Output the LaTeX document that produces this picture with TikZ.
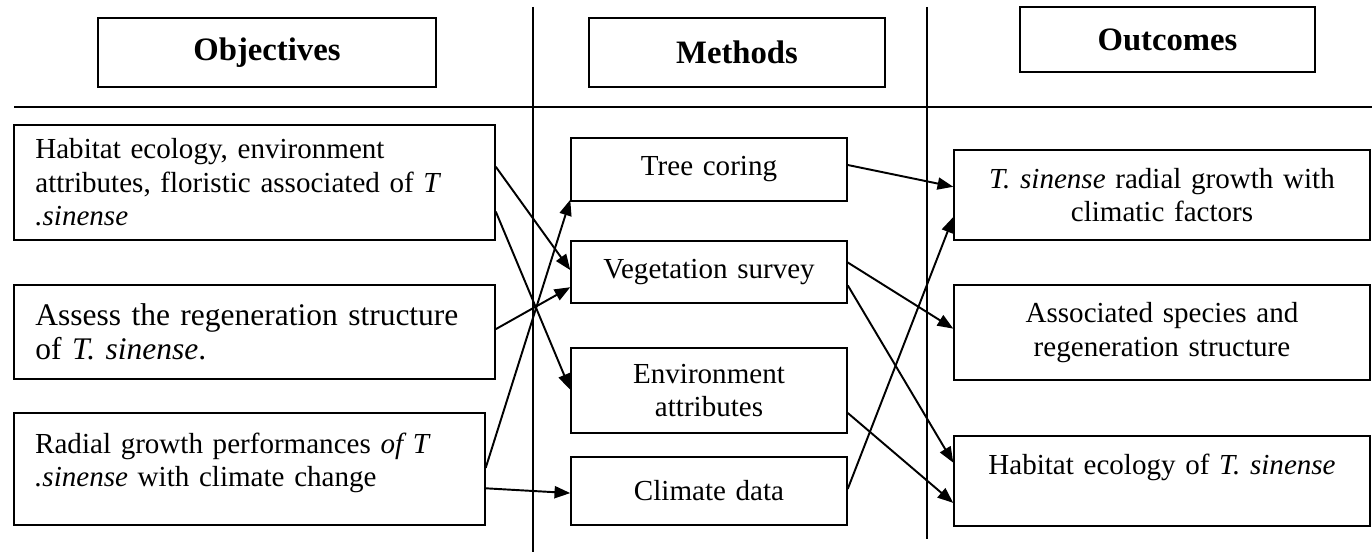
\documentclass[tikz,border=0pt]{standalone}
\usepackage{fontspec}
\setmainfont{Liberation Serif}
\usetikzlibrary{arrows.meta, calc}

\begin{document}
\begin{tikzpicture}[
    x=0.413pt, y=-0.413pt,
    font=\fontsize{12}{13.8}\selectfont,
    head/.style={draw, line width=0.6pt, inner sep=0pt,
                 font=\fontsize{13.5}{16}\selectfont\bfseries},
    objbox/.style={draw, line width=0.6pt, inner xsep=8.7pt, inner ysep=0pt,
                   align=left},
    methbox/.style={draw, line width=0.6pt, inner sep=0pt, align=center,
                    minimum width=114pt, text width=110pt},
    outbox/.style={draw, line width=0.6pt, inner sep=0pt, align=center,
                   minimum width=171.8pt, text width=165pt},
    arr/.style={-{Triangle[length=6.5pt, width=5pt]}, line width=0.8pt},
    divider/.style={line width=0.7pt}
]
\useasboundingbox (0,0) rectangle (1372,552);

% column dividers
\draw[divider] (14,107) -- (1372,107);
\draw[divider] (533,7) -- (533,552);
\draw[divider] (927,7) -- (927,539);

% headers
\node[head, minimum width=139.6pt, minimum height=28.5pt] (hobj) at (267,52.5) {Objectives};
\node[head, minimum width=122.2pt, minimum height=28.5pt] (hmeth) at (737,52.5) {Methods};
\node[head, minimum width=121.8pt, minimum height=26.8pt] (hout) at (1167.5,39.5) {Outcomes};

% objectives
\node[objbox, minimum width=198.7pt, minimum height=47.5pt, text width=181pt] (obj1) at (254.5,182.5)
  {Habitat ecology, environment\\ attributes, floristic associated of \emph{T}\\ \emph{.sinense}};
\node[objbox, minimum width=198.7pt, minimum height=38.8pt, text width=181pt,
      font=\fontsize{13}{14}\selectfont] (obj2) at (254.5,332)
  {\makebox[181pt][s]{Assess the regeneration structure}\\ of \emph{T. sinense}.};
\node[objbox, minimum width=194.5pt, minimum height=46.3pt, text width=177pt] (obj3) at (249.5,469)
  {Radial growth performances \emph{of T}\\ \emph{.sinense} with climate change\\[-6pt]\mbox{}};

% methods
\node[methbox, minimum height=26pt]   (tree) at (709,169.5) {Tree coring};
\node[methbox, minimum height=25.6pt] (veg)  at (709,272)   {Vegetation survey\hspace{9pt}};
\node[methbox, minimum height=35.1pt] (env)  at (709,390.5) {Environment\\ attributes};
\node[methbox, minimum height=28.1pt] (clim) at (709,491)   {Climate data};

% outcomes
\node[outbox, minimum height=37.2pt] (out1) at (1162,195)
  {\emph{T. sinense} radial growth with\\ climatic factors};
\node[outbox, minimum height=39.2pt] (out2) at (1162,332.5)
  {Associated species and\\ regeneration structure};
\node[outbox, minimum height=37.2pt] (out3) at (1162,481)
  {Habitat ecology of \emph{T. sinense}\\ \mbox{}};

% objectives -> methods
\draw[arr] ($(obj1.north east)!0.365!(obj1.south east)$) -- ($(veg.north west)!0.47!(veg.south west)$);
\draw[arr] ($(obj1.north east)!0.75!(obj1.south east)$) -- ($(env.north west)!0.49!(env.south west)$);
\draw[arr] ($(obj2.north east)!0.47!(obj2.south east)$) -- ($(veg.north west)!0.74!(veg.south west)$);
\draw[arr] ($(obj3.north east)!0.49!(obj3.south east)$) -- ($(tree.north west)!0.97!(tree.south west)$);
\draw[arr] ($(obj3.north east)!0.67!(obj3.south east)$) -- ($(clim.north west)!0.53!(clim.south west)$);

% methods -> outcomes
\draw[arr] ($(tree.north east)!0.43!(tree.south east)$) -- ($(out1.north west)!0.41!(out1.south west)$);
\draw[arr] ($(veg.north east)!0.35!(veg.south east)$) -- ($(out2.north west)!0.46!(out2.south west)$);
\draw[arr] ($(veg.north east)!0.71!(veg.south east)$) -- ($(out3.north west)!0.30!(out3.south west)$);
\draw[arr] ($(env.north east)!0.76!(env.south east)$) -- ($(out3.north west)!0.74!(out3.south west)$);
\draw[arr] ($(clim.north east)!0.47!(clim.south east)$) -- ($(out1.north west)!0.74!(out1.south west)$);
\end{tikzpicture}
\end{document}
